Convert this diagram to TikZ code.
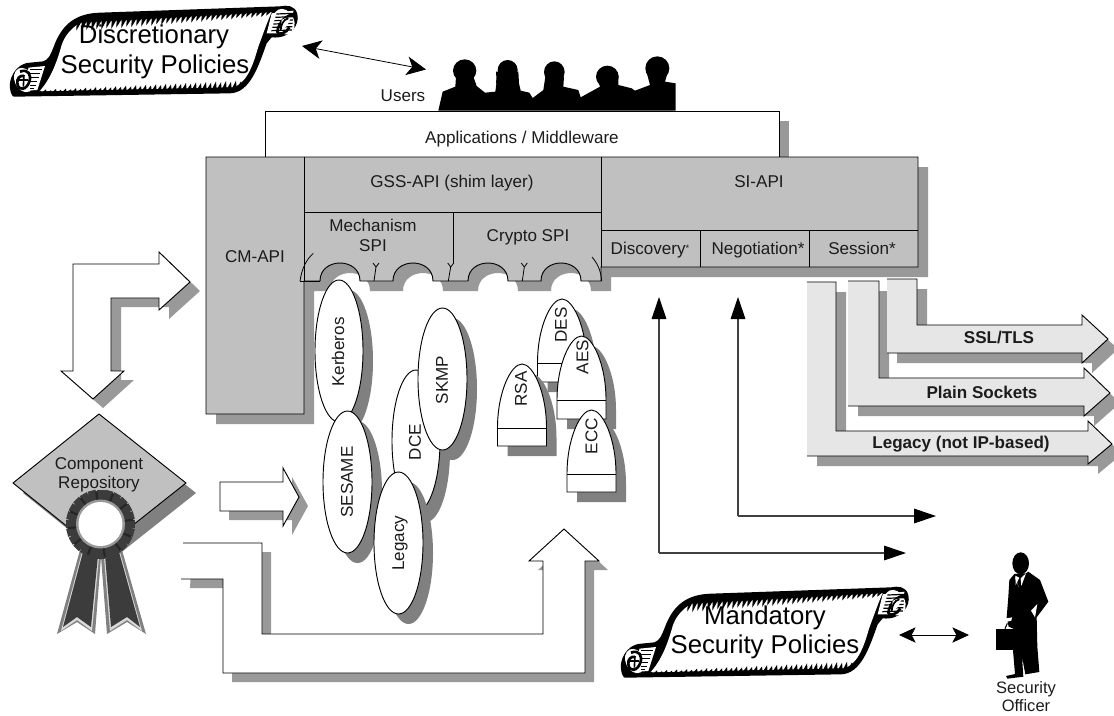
\documentclass[tikz,border=0pt]{standalone}
\usepackage{fontspec}
\setmainfont{Liberation Sans}
\usetikzlibrary{arrows.meta}
\definecolor{shA}{HTML}{999999}
\definecolor{shB}{HTML}{808080}
\definecolor{boxgrey}{HTML}{C0C0C0}
\definecolor{lightbar}{HTML}{E6E6E6}
\definecolor{ribbon}{HTML}{3C3C3C}
\definecolor{txt}{HTML}{1C1C1C}
\tikzset{
  lab/.style={font=\fontsize{12.8}{15}\selectfont,inner sep=0pt,align=center,text=txt},
  lbase/.style={lab,anchor=base},
  blab/.style={font=\fontsize{12.8}{15}\selectfont\bfseries,inner sep=0pt,anchor=base,text=txt},
  biglab/.style={font=\fontsize{19.3}{22.5}\selectfont,inner sep=0pt,anchor=base,text=black},
  rotlab/.style={lab,rotate=90},
  ln/.style={draw=black,line width=0.7pt,line join=miter},
  shdA/.style={fill=shA,draw=none,shift={(10,10)}},
  shdB/.style={fill=shB,draw=none,shift={(10,10)}},
  thin arrow/.style={draw=black!75,line width=0.8pt,-{Triangle[length=16.5pt,width=11pt,black]}},
  dbl arrow big/.style={draw=black,line width=0.6pt,{Stealth[length=14.5pt,width=14pt,inset=4pt,black]}-{Stealth[length=14.5pt,width=14pt,inset=4pt,black]}},
  dbl arrow/.style={draw=black,line width=0.6pt,{Stealth[length=12.5pt,width=11.5pt,inset=3pt,black]}-{Stealth[length=12.5pt,width=11.5pt,inset=3pt,black]}}
}
% ---- shapes in pixel coordinates
\def\mainshape{(206,157) -- (918,157) -- (918,267) -- (601,267) -- (601,281) -- (581,281)
  .. controls (581,257) and (541,257) .. (541,281) -- (508,281)
  .. controls (508,257) and (468,257) .. (468,281) -- (433,281)
  .. controls (433,257) and (393,257) .. (393,281) -- (360,281)
  .. controls (360,257) and (320,257) .. (320,281) -- (304,281) -- (304,414) -- (206,414) -- cycle}
\def\lshape{(190,282) -- (159,252) -- (159,264) -- (73,264) -- (73,371) -- (61,371) -- (93,399) -- (124,371) -- (111,371) -- (111,298) -- (159,298) -- (159,310) -- cycle}
\def\rshape{(220,482) -- (283,482) -- (283,468) -- (299,497) -- (283,526) -- (283,511) -- (220,511) -- cycle}
\def\ushape{(183,543) -- (262,543) -- (262,634) -- (543,634) -- (543,561) -- (529,561) -- (564,529) -- (599,561) -- (585,561) -- (585,673) -- (223,673) -- (223,579) -- (181,579)}
\def\sslshape{(887,279) -- (917,279) -- (917,325) -- (1082,325) -- (1082,315) -- (1108,339) -- (1082,363) -- (1082,353) -- (887,353)}
\def\plainshape{(848,281) -- (879,281) -- (879,378) -- (1084,378) -- (1084,368) -- (1110,393) -- (1084,416) -- (1084,406) -- (848,406)}
\def\legshape{(807,282) -- (836,282) -- (836,431) -- (1088,431) -- (1088,421) -- (1112,444) -- (1088,464) -- (1088,456) -- (807,456)}
\def\diamondshape{(99,414) -- (186,483) -- (99,552) -- (13,483) -- cycle}
% bullet: #1 centre x, #2 top, #3 band line, #4 bottom
\newcommand{\bulletpath}[4]{(#1-24.5,#4) -- (#1-24.5,#3) .. controls (#1-24.5,#3-36) and (#1-11,#2) .. (#1,#2) .. controls (#1+11,#2) and (#1+24.5,#3-36) .. (#1+24.5,#3) -- (#1+24.5,#4) -- cycle}
\newcommand{\drawbullet}[4]{%
  \fill[shdB] \bulletpath{#1}{#2}{#3}{#4};
  \draw[ln,fill=white] \bulletpath{#1}{#2}{#3}{#4};
  \draw[ln] (#1-24.5,#3) -- (#1+24.5,#3);}
\newcommand{\drawellipse}[4]{%
  \fill[shdB] (#1,#2) ellipse[x radius=#3,y radius=#4];
  \draw[ln,fill=white] (#1,#2) ellipse[x radius=#3,y radius=#4];}
% scroll, in units of a third of a pixel
\newcommand{\drawscroll}[2]{%
\begin{scope}[shift={(#1,#2)},x=0.25pt,y=-0.25pt]
  \fill[black] (42,290) -- (690,280) .. controls (750,278) and (775,200) .. (800,130)
     -- (815,112) .. controls (870,118) and (900,75) .. (892,42)
     .. controls (885,15) and (860,15) .. (840,19) -- (300,38)
     .. controls (230,40) and (190,70) .. (165,130)
     .. controls (150,170) and (145,178) .. (130,184) -- (90,188)
     .. controls (45,190) and (25,240) .. (30,265)
     .. controls (32,285) and (40,290) .. (42,290) -- cycle;
  \fill[white] (240,68) -- (815,36) .. controls (800,70) and (790,100) .. (775,140)
     .. controls (760,190) and (745,245) .. (700,262) -- (118,274)
     .. controls (150,240) and (170,190) .. (185,135)
     .. controls (195,105) and (215,85) .. (240,68) -- cycle;
  \foreach \i in {0,...,38}{
    \pgfmathsetmacro{\bx}{235+15*\i}
    \pgfmathsetmacro{\by}{72-0.0555*15*\i}
    \pgfmathsetmacro{\ll}{20-0.35*\i+3*mod(\i,2)}
    \fill[black] (\bx-5,\by-6) -- (\bx+9,\by-6) -- (\bx-6,\by+\ll) -- cycle;}
  \foreach \i in {0,...,40}{
    \pgfmathsetmacro{\bx}{118+15*\i}
    \pgfmathsetmacro{\by}{276-0.02*15*\i}
    \pgfmathsetmacro{\ll}{4+0.4*\i+3*mod(\i,2)}
    \fill[black] (\bx-8,\by+3) -- (\bx+7,\by+3) -- (\bx+5,\by-\ll) -- cycle;}
  % right roll
  \fill[white,rotate around={25:(852,65)}] (852,65) ellipse[x radius=30,y radius=40];
  \fill[white] (815,40) -- (880,32) -- (875,100) -- (800,100) -- cycle;
  \foreach \yy in {42,52,62,72,82,92}{
    \pgfmathsetmacro{\xa}{842-\yy*0.3}
    \pgfmathsetmacro{\xb}{885-\yy*0.1}
    \draw[black,line width=0.9pt] (\xa,\yy) -- (\xb,\yy-2);}
  \draw[black,line width=2pt] (885,45) .. controls (860,40) and (835,70) .. (832,95) .. controls (832,108) and (860,100) .. (868,82);
  \fill[white] (845,60) .. controls (860,50) and (875,50) .. (868,65) .. controls (860,80) and (850,90) .. (842,90) -- cycle;
  \draw[black,line width=1.3pt] (865,55) .. controls (850,58) and (842,75) .. (842,92);
  % left roll
  \fill[white,rotate around={25:(72,240)}] (72,240) ellipse[x radius=28,y radius=38];
  \fill[white] (85,203) -- (135,198) -- (112,270) -- (80,272) -- cycle;
  \foreach \yy in {208,220,232,244,256,266}{
    \pgfmathsetmacro{\xb}{126-\yy*0.1+(208-\yy)*0.28+20}
    \draw[black,line width=0.9pt] (90,\yy) -- (\xb,\yy);}
  \draw[black,line width=2pt] (60,215) .. controls (85,205) and (95,225) .. (88,245) .. controls (80,270) and (55,275) .. (52,250) .. controls (50,235) and (60,225) .. (72,228);
  \draw[black,line width=1.2pt] (58,240) -- (85,240);
  \draw[black,line width=1.2pt] (72,225) -- (70,260);
\end{scope}}
\begin{document}
\begin{tikzpicture}[x=0.75pt,y=-0.75pt]
\useasboundingbox (0,0) rectangle (1114,715);
% ---- Applications box
\fill[shdA] (265,111) rectangle (779,157);
\draw[ln,fill=white] (265,157) -- (265,111) -- (779,111) -- (779,157);
\node[lbase] (apps) at (522,143.5) {Applications / Middleware};
% ---- main API block
\fill[shdA] \mainshape;
\draw[ln,fill=boxgrey] \mainshape;
\draw[ln] (304,157) -- (304,281);
\draw[ln] (601,157) -- (601,267);
\draw[ln] (304,212) -- (601,212);
\draw[ln] (601,230) -- (918,230);
\draw[ln] (700,230) -- (700,267);
\draw[ln] (809,230) -- (809,267);
\draw[ln] (453,212) -- (453,263);
\draw[ln] (300,281) -- (320,281);
\draw[ln,line width=0.6pt] (300,281) .. controls (302,268) and (306,260) .. (313.3,253.3);
\draw[ln,line width=0.6pt] (601.6,281) .. controls (601,270) and (597,263) .. (592,257);
\foreach \a/\b in {374/376,448.3/450.7,522.3/524.3}{
  \draw[ln,line width=0.6pt] (\a,281) -- (\b,267) -- (\b-3,263);
  \draw[ln,line width=0.6pt] (\b,267) -- (\b+3,263);}
\node[lbase] (cmapi) at (255,262) {CM-API};
\node[lbase] (gss) at (452,187) {GSS-API (shim layer)};
\node[lbase] (mech1) at (373,231) {Mechanism};
\node[lbase] (mech2) at (373,251) {SPI};
\node[lbase] (crypto) at (528,241) {Crypto SPI};
\node[lbase] (siapi) at (759,187) {SI-API};
\node[lbase] (disc) at (650,254) {Discovery\raisebox{2pt}{\fontsize{7}{7}\selectfont *}};
\node[lbase] (nego) at (758,254) {Negotiation*};
\node[lbase] (sess) at (862,254) {Session*};
% ---- L arrow
\fill[shA,shift={(10,9)}] \lshape;
\draw[ln,fill=white] \lshape;
% ---- right arrow
\fill[shA,shift={(9,9)}] \rshape;
\draw[ln,fill=white] \rshape;
% ---- U arrow
\fill[shA,shift={(9,9)}] \ushape -- cycle;
\fill[white] \ushape -- cycle;
\draw[ln] \ushape;
% ---- ellipses
\drawellipse{339}{351}{24}{71}
\node[rotlab] (kerb) at (338,352) {Kerberos};
\drawellipse{416}{441}{24}{71}
\node[rotlab] (dce) at (415,442) {DCE};
\drawellipse{442.5}{379}{24.5}{71}
\node[rotlab] (skmp) at (442,380) {SKMP};
\drawellipse{347.5}{482}{24.5}{71}
\node[rotlab] (sesame) at (347,482) {SESAME};
\drawellipse{398.5}{543}{24.5}{71}
\node[rotlab] (legacyM) at (400,543) {Legacy};
% ---- bullets
\drawbullet{562}{299}{363}{382}
\node[rotlab] (des) at (561,325) {DES};
\drawbullet{522}{364}{428}{446}
\node[rotlab] (rsa) at (521,389) {RSA};
\drawbullet{581.5}{336}{400}{419}
\node[rotlab] (aes) at (582.5,357) {AES};
\drawbullet{591.5}{410}{474}{492}
\node[rotlab] (ecc) at (591.5,436) {ECC};
% ---- transport arrows
\fill[shA,shift={(10,10)}] \legshape -- cycle;
\fill[lightbar] \legshape -- cycle;
\draw[ln] \legshape;
\fill[shA,shift={(10,10)}] \plainshape -- cycle;
\fill[lightbar] \plainshape -- cycle;
\draw[ln] \plainshape;
\fill[shA,shift={(10,10)}] \sslshape -- cycle;
\fill[lightbar] \sslshape -- cycle;
\draw[ln] \sslshape;
\node[blab] (ssl) at (999,343) {SSL/TLS};
\node[blab] (plain) at (982,398) {Plain Sockets};
\node[blab] (legacyT) at (961,448) {Legacy (not IP-based)};
% ---- thin arrows
\coordinate (discIn) at (659,297);
\coordinate (discCorner) at (659,553);
\coordinate (discOut) at (906,553);
\coordinate (negoIn) at (738,297);
\coordinate (negoCorner) at (738,516);
\coordinate (negoOut) at (936,516);
\draw[thin arrow] (discCorner) -- (discIn);
\draw[thin arrow] (discCorner) -- (discOut);
\draw[thin arrow] (negoCorner) -- (negoIn);
\draw[thin arrow] (negoCorner) -- (negoOut);
% ---- component repository
\fill[shdB] \diamondshape;
\draw[ln,fill=boxgrey] \diamondshape;
\node[lbase] (repo1) at (99,469) {Component};
\node[lbase] (repo2) at (99,488) {Repository};
\fill[shB] (80,550) -- (57,634) -- (77,622) -- (95,634) -- (101,557) -- cycle;
\fill[shB] (101,557) -- (107,634) -- (127,622) -- (146,634) -- (122,550) -- cycle;
\fill[white!85!black] (82,552) -- (61,631) -- (77,620) -- (92,631) -- (99,557) -- cycle;
\fill[white!85!black] (104,557) -- (110,631) -- (127,620) -- (142,631) -- (120,552) -- cycle;
\fill[ribbon] (83,552) -- (63,627) -- (77,617) -- (91,627) -- (98,555) -- cycle;
\fill[ribbon] (105,555) -- (111,627) -- (127,617) -- (140,627) -- (119,552) -- cycle;
\fill[ribbon] (100.5,524) circle[radius=32];
\foreach \t in {0,15,...,345}{
  \fill[ribbon,rotate around={\t:(100.5,524)}] (96.5,489.5) rectangle (104.5,495);
}
\foreach \t in {7.5,37.5,...,352.5}{
  \draw[black!85,line width=1.6pt,rotate around={\t:(100.5,524)}] (100.5,491) -- (100.5,500);
}
\fill[shA] (100.5,524) circle[radius=24.5];
\fill[white] (100.5,524) circle[radius=22];
% ---- scrolls
\drawscroll{0}{0}
\drawscroll{611}{581}
\node[biglab] (discr1) at (154,43) {Discretionary};
\node[biglab] (discr2) at (155,73) {Security Policies};
\node[biglab] (mand1) at (765,624) {Mandatory};
\node[biglab] (mand2) at (765,653) {Security Policies};
% ---- users
\begin{scope}[shift={(370,40)},x=0.25pt,y=-0.25pt]
  \fill[black] (205,212) -- (218,155) -- (256,140) -- (258,110) -- (310,110) -- (320,138) -- (345,158) -- (376,155)
    -- (380,125) -- (378,95) -- (445,95) -- (447,130) -- (452,152) -- (478,158) -- (488,174) -- (520,150) -- (526,110)
    -- (582,110) -- (580,140) -- (625,150) -- (632,172) -- (690,140) -- (680,105) -- (745,105) -- (745,135)
    -- (785,145) -- (795,152) -- (840,135) -- (828,90) -- (895,90) -- (885,125) -- (917,130) -- (917,212) -- cycle;
  \fill[black] (284,92) ellipse[x radius=35,y radius=34];
  \fill[black] (413,90) ellipse[x radius=30,y radius=30];
  \fill[black] (412,125) ellipse[x radius=34,y radius=28];
  \fill[black] (553,96) ellipse[x radius=31,y radius=32];
  \fill[black] (712,110) ellipse[x radius=34,y radius=33];
  \fill[black] (862,85) ellipse[x radius=36,y radius=36];
\end{scope}
\node[lbase] (users) at (403,101) {Users};
\coordinate (usersArrow) at (426,69.5);
\coordinate (discScroll) at (302,46);
\draw[dbl arrow big] (discScroll) -- (usersArrow);
% ---- security officer
\begin{scope}[shift={(600,530)},x=0.25pt,y=-0.25pt]
  \fill[black] (1262,100) ellipse[x radius=25,y radius=33];
  \fill[black] (1243,132) -- (1228,150) -- (1225,200) -- (1220,262) -- (1226,290) -- (1240,296) -- (1238,350) -- (1245,432)
    -- (1218,438) -- (1222,446) -- (1270,440) -- (1266,380) -- (1276,433) -- (1318,426) -- (1312,350) -- (1310,262) -- (1345,215)
    -- (1320,150) -- (1285,125) -- (1278,130) -- cycle;
  \fill[black] (1188,296) rectangle (1245,360);
  \fill[white] (1245,140) -- (1256,172) -- (1248,145) -- cycle;
  \fill[white] (1246,137) -- (1258,143) -- (1247,165) -- cycle;
  \fill[white] (1278,130) -- (1262,145) -- (1264,168) -- cycle;
  \fill[white] (1293,242) -- (1312,222) -- (1305,262) -- cycle;
  \fill[white] (1220,265) -- (1236,262) -- (1234,272) -- (1222,275) -- cycle;
  \draw[black,line width=0.8pt] (1215,296) -- (1222,280);
\end{scope}
\node[lbase,font=\fontsize{12.4}{13.5}\selectfont] (officer1) at (1026,693) {Security};
\node[lbase,font=\fontsize{12.4}{13.5}\selectfont] (officer2) at (1026,711.5) {Officer};
\coordinate (mandScroll) at (899,635);
\coordinate (officerArrow) at (969,635);
\draw[dbl arrow] (mandScroll) -- (officerArrow);
\end{tikzpicture}
\end{document}
